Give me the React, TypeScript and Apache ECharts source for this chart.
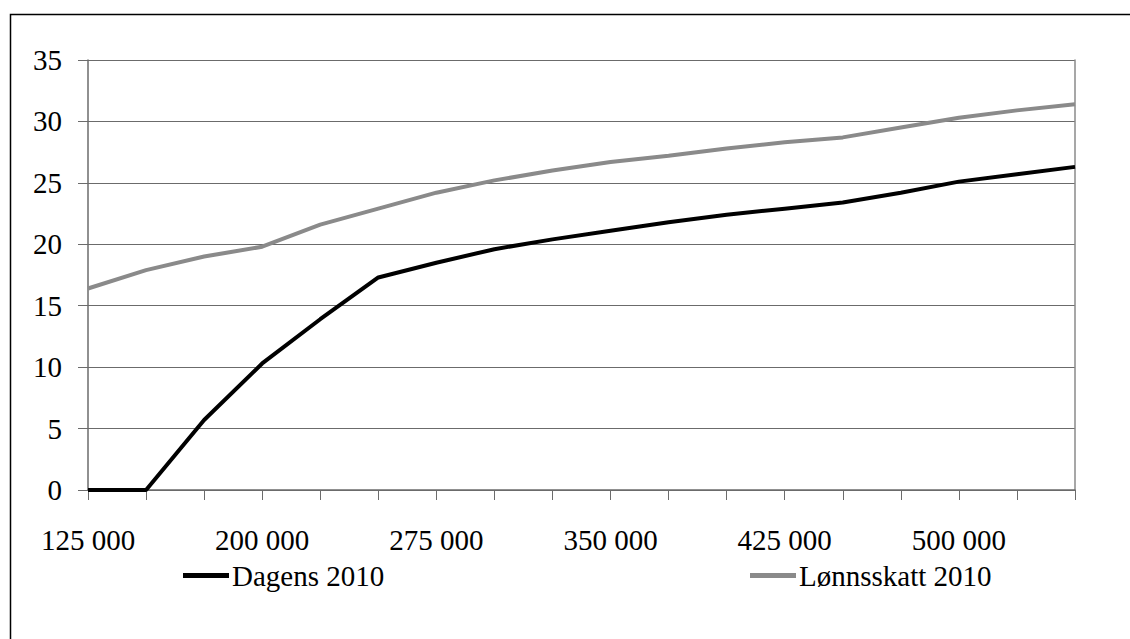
import React, { useEffect, useRef } from "react";
import * as echarts from "echarts";

const categories = [
  "125 000", "150 000", "175 000", "200 000", "225 000", "250 000",
  "275 000", "300 000", "325 000", "350 000", "375 000", "400 000",
  "425 000", "450 000", "475 000", "500 000", "525 000", "550 000",
];
const dagens2010 = [0, 0, 5.7, 10.3, 13.9, 17.3, 18.5, 19.6, 20.4, 21.1, 21.8, 22.4, 22.9, 23.4, 24.2, 25.1, 25.7, 26.3];
const lonnsskatt2010 = [16.4, 17.9, 19.0, 19.8, 21.6, 22.9, 24.2, 25.2, 26.0, 26.7, 27.2, 27.8, 28.3, 28.7, 29.5, 30.3, 30.9, 31.4];
const yTicks = { min: 0, max: 35, interval: 5 };

const FONT = "'Liberation Serif', 'Times New Roman', serif";
const FS = 29;

export default function App() {
  const ref = useRef<HTMLDivElement>(null);
  useEffect(() => {
    if (!ref.current) return;
    const chart = echarts.init(ref.current, undefined, { renderer: "svg" });
    const legendCommon = {
      top: 556,
      itemWidth: 46,
      itemHeight: 5,
      icon: "rect",
      itemGap: 4,
      textStyle: { fontFamily: FONT, fontSize: FS, color: "#000", padding: [0, 0, 0, -2] },
    };
    chart.setOption({
      animation: false,
      backgroundColor: "#ffffff",
      textStyle: { fontFamily: FONT },
      grid: { left: 88, right: 55, top: 60, bottom: 149, containLabel: false },
      graphic: [
        {
          type: "rect",
          shape: { x: 10.5, y: 14.5, width: 1200, height: 700 },
          style: { fill: "none", stroke: "#000", lineWidth: 1.5 },
          silent: true,
        },
      ],
      legend: [
        { ...legendCommon, data: ["Dagens 2010"], left: 178 },
        { ...legendCommon, data: ["Lønnsskatt 2010"], left: 745 },
      ],
      xAxis: {
        type: "category",
        data: categories,
        boundaryGap: false,
        axisLine: { lineStyle: { color: "#6b6b6b", width: 1.5 } },
        axisTick: { show: true, interval: 0, length: 10, lineStyle: { color: "#6b6b6b" } },
        axisLabel: {
          interval: 2,
          margin: 35,
          fontFamily: FONT,
          fontSize: FS,
          color: "#000",
        },
        splitLine: { show: false },
      },
      yAxis: [
        {
          type: "value",
          min: yTicks.min,
          max: yTicks.max,
          interval: yTicks.interval,
          axisLine: { show: true, lineStyle: { color: "#6b6b6b", width: 1.5 } },
          axisTick: { show: true, length: 10, lineStyle: { color: "#6b6b6b" } },
          axisLabel: { margin: 26, fontFamily: FONT, fontSize: FS, color: "#000" },
          splitLine: { show: true, lineStyle: { color: "#6b6b6b", width: 1 } },
        },
        {
          type: "value",
          position: "right",
          min: yTicks.min,
          max: yTicks.max,
          interval: yTicks.interval,
          axisLine: { show: true, lineStyle: { color: "#8a8a8a", width: 1.5 } },
          axisTick: { show: false },
          axisLabel: { show: false },
          splitLine: { show: false },
        },
      ],
      series: [
        {
          name: "Dagens 2010",
          type: "line",
          data: dagens2010,
          symbol: "none",
          itemStyle: { color: "#000" },
          lineStyle: { color: "#000", width: 4 },
          z: 3,
        },
        {
          name: "Lønnsskatt 2010",
          type: "line",
          data: lonnsskatt2010,
          symbol: "none",
          itemStyle: { color: "#8a8a8a" },
          lineStyle: { color: "#8a8a8a", width: 4 },
          z: 2,
        },
      ],
    });
    return () => chart.dispose();
  }, []);
  return (
    <div
      ref={ref}
      style={{ position: "fixed", left: 0, top: 0, width: 1130, height: 639 }}
    />
  );
}
